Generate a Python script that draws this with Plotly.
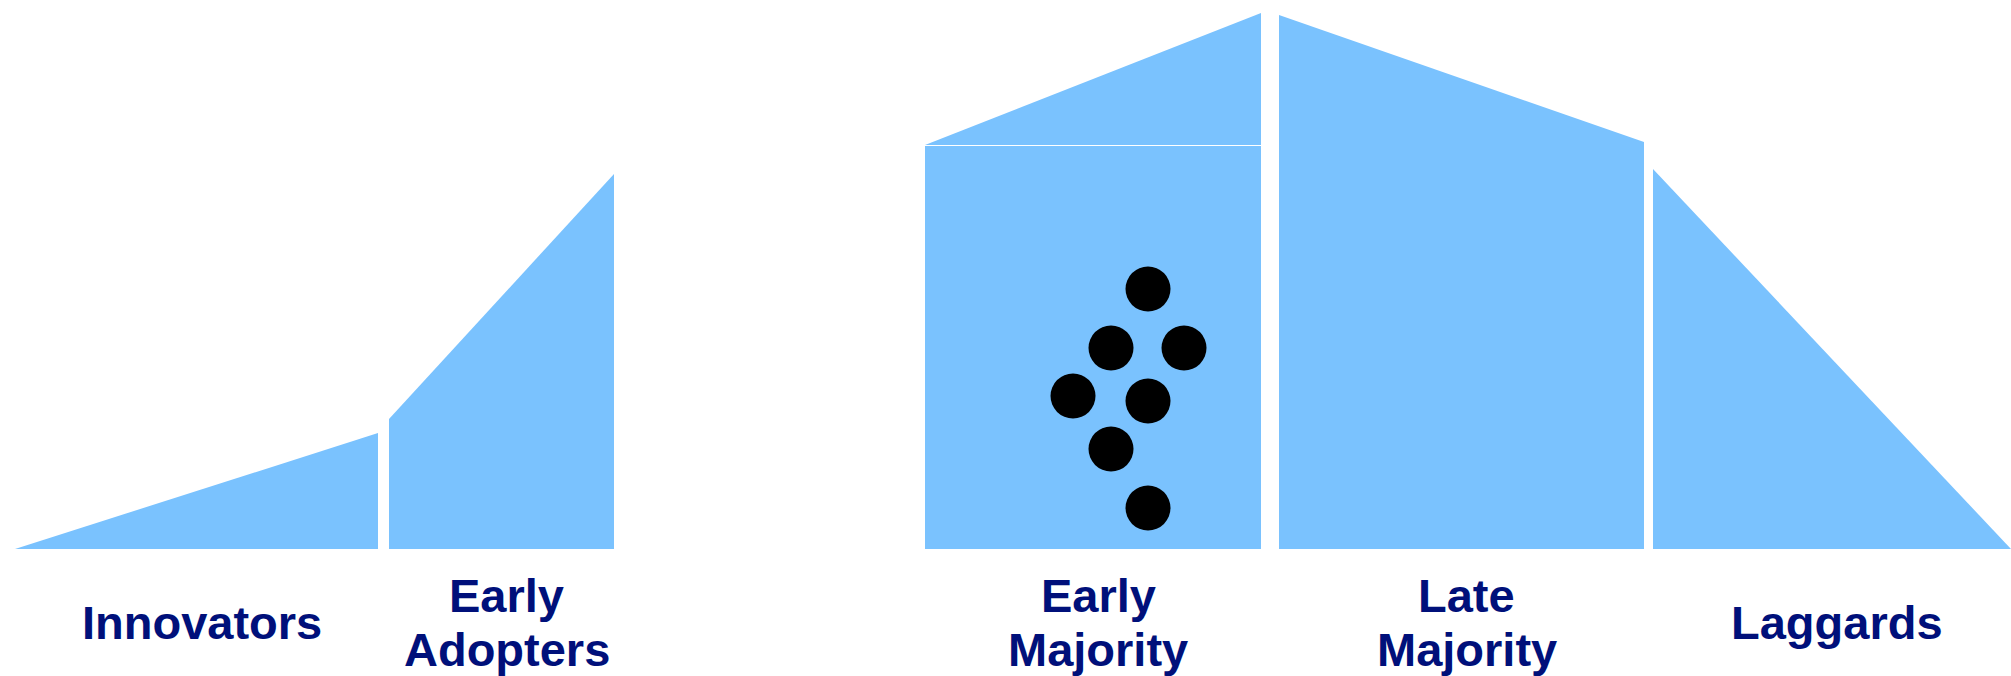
import plotly.graph_objects as go

# ---- data ----
seg_names = ["Innovators", "Early<br>Adopters", "Early<br>Majority", "Late<br>Majority", "Laggards"]
seg_x_start = [15, 389, 925, 1279, 1653]
seg_x_end = [378, 614, 1261, 1644, 2011]
seg_h_start = [0, 130, 403, 534, 380]
seg_h_end = [116, 375, 403, 407, 0]

# triangular cap above the Early Majority block
cap_x = [925, 1261]
cap_h_base = [404, 404]
cap_h_peak = [404, 536]

# the cluster of dots inside Early Majority
dot_x = [1148, 1111, 1184, 1073, 1148, 1111, 1148]
dot_y = [260, 201, 201, 153, 148, 100, 41]

BLUE = "#7ac2fe"
NAVY = "#00107a"
LABEL_Y = -73
LINE_GAP = 54

fig = go.Figure()

for xs, xe, hs, he in zip(seg_x_start, seg_x_end, seg_h_start, seg_h_end):
    fig.add_trace(go.Scatter(
        x=[xs, xs, xe, xe, xs], y=[0, hs, he, 0, 0],
        mode="lines", fill="toself", fillcolor=BLUE,
        line=dict(width=0, color=BLUE), hoverinfo="skip", showlegend=False))

fig.add_trace(go.Scatter(
    x=[cap_x[0], cap_x[0], cap_x[1], cap_x[1], cap_x[0]],
    y=[cap_h_base[0], cap_h_peak[0], cap_h_peak[1], cap_h_base[1], cap_h_base[0]],
    mode="lines", fill="toself", fillcolor=BLUE,
    line=dict(width=0, color=BLUE), hoverinfo="skip", showlegend=False))

fig.add_trace(go.Scatter(
    x=dot_x, y=dot_y, mode="markers",
    marker=dict(size=45, color="black", line=dict(width=0)),
    hoverinfo="skip", showlegend=False))

for name, xs, xe in zip(seg_names, seg_x_start, seg_x_end):
    lines = name.split("<br>")
    n = len(lines)
    for i, line in enumerate(lines):
        y = LABEL_Y + (n - 1) / 2 * LINE_GAP - i * LINE_GAP
        fig.add_annotation(
            x=(xs + xe) / 2 + 5, y=y, text="<b>" + line + "</b>",
            showarrow=False, xanchor="center", yanchor="middle",
            font=dict(family="Liberation Sans, Arial, sans-serif", size=47, color=NAVY))

fig.update_layout(
    width=2011, height=676,
    margin=dict(l=0, r=0, t=0, b=0),
    paper_bgcolor="white", plot_bgcolor="white",
    xaxis=dict(range=[0, 2011], visible=False, fixedrange=True),
    yaxis=dict(range=[-127, 549], visible=False, fixedrange=True),
)

fig.write_html("out.html")
